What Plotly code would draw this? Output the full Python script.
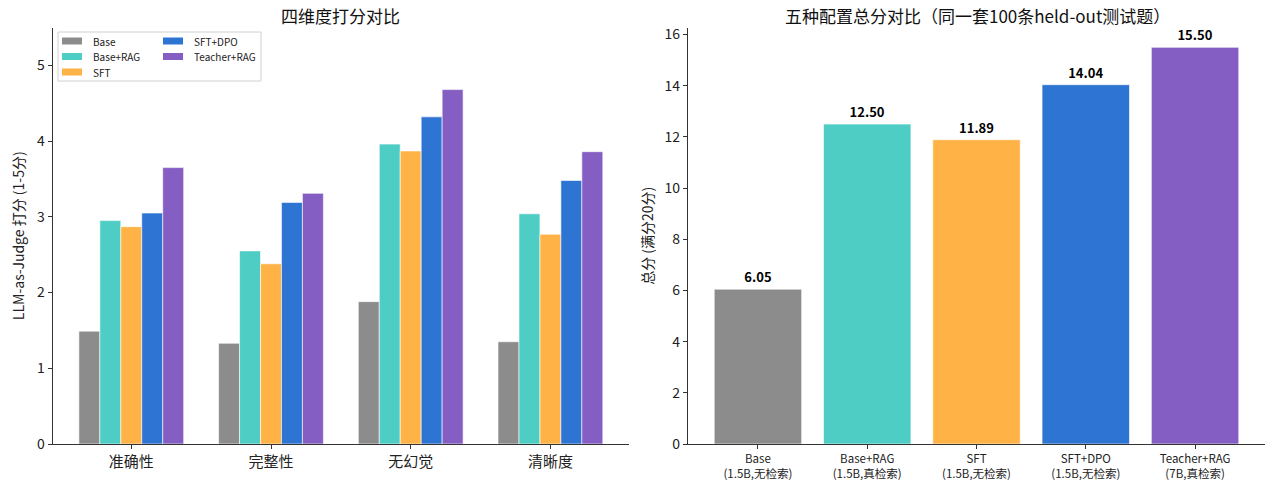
import plotly.graph_objects as go

# data
dimensions = ['准确性', '完整性', '无幻觉', '清晰度']
configs = ['Base', 'Base+RAG', 'SFT', 'SFT+DPO', 'Teacher+RAG']
config_labels = ['Base<br>(1.5B,无检索)', 'Base+RAG<br>(1.5B,真检索)', 'SFT<br>(1.5B,无检索)',
                 'SFT+DPO<br>(1.5B,无检索)', 'Teacher+RAG<br>(7B,真检索)']
colors = ['#8c8c8c', '#4ecdc4', '#ffb347', '#2e74d2', '#845ec2']

base_scores = [1.49, 1.33, 1.88, 1.35]
base_rag_scores = [2.95, 2.55, 3.96, 3.04]
sft_scores = [2.87, 2.38, 3.87, 2.77]
sft_dpo_scores = [3.05, 3.19, 4.32, 3.48]
teacher_rag_scores = [3.65, 3.31, 4.68, 3.86]
totals = [6.05, 12.50, 11.89, 14.04, 15.50]

scores = [base_scores, base_rag_scores, sft_scores, sft_dpo_scores, teacher_rag_scores]

FONT = 'Noto Sans CJK SC'
W, H = 1280, 485


def px_x(p):
    return p / W


def px_y(p):
    return 1 - p / H


fig = go.Figure()

# left: grouped bars per dimension
for i, (name, vals) in enumerate(zip(configs, scores)):
    fig.add_trace(go.Bar(
        x=dimensions, y=vals, name=name, showlegend=False,
        marker=dict(color=colors[i], line=dict(color='white', width=0.6)),
        xaxis='x', yaxis='y',
    ))

# right: totals
fig.add_trace(go.Bar(
    x=config_labels, y=totals, width=0.8,
    marker=dict(color=colors, line=dict(color='white', width=0.6)),
    text=[f'{v:.2f}' for v in totals], textposition='outside',
    textfont=dict(size=13, color='black', family=FONT, weight='bold'),
    cliponaxis=False, showlegend=False,
    xaxis='x2', yaxis='y2',
))

axis_common = dict(
    showline=True, linecolor='#333', linewidth=1.2, showgrid=False, zeroline=False,
    ticks='outside', ticklen=4, tickcolor='#333', automargin=False,
)
y_dom = [px_y(444), px_y(27.5)]

# legend box (two columns, column-major like matplotlib ncol=2)
shapes = [dict(type='rect', xref='paper', yref='paper',
               x0=px_x(58), x1=px_x(261), y0=px_y(81), y1=px_y(32),
               line=dict(color='#d0d0d0', width=1), fillcolor='rgba(255,255,255,0.8)')]
annotations = []
for i, name in enumerate(configs):
    col, row = divmod(i, 3)
    x0 = 62 + col * 101
    yc = 41 + row * 15.5
    shapes.append(dict(type='rect', xref='paper', yref='paper',
                       x0=px_x(x0), x1=px_x(x0 + 20), y0=px_y(yc + 3.5), y1=px_y(yc - 3.5),
                       line=dict(width=0), fillcolor=colors[i]))
    annotations.append(dict(text=name, x=px_x(x0 + 29), y=px_y(yc), xref='paper', yref='paper',
                            xanchor='left', yanchor='middle', showarrow=False,
                            font=dict(size=10, color='#222')))

annotations += [
    dict(text='四维度打分对比', x=px_x(340), y=px_y(15), xref='paper', yref='paper',
         xanchor='center', yanchor='middle',
         showarrow=False, font=dict(size=17, color='#111')),
    dict(text='五种配置总分对比（同一套100条held-out测试题）', x=px_x(977), y=px_y(15),
         xref='paper', yref='paper', xanchor='center', yanchor='middle',
         showarrow=False, font=dict(size=17, color='#111')),
]

fig.update_layout(
    width=W, height=H,
    margin=dict(l=0, r=0, t=0, b=0),
    paper_bgcolor='white', plot_bgcolor='white',
    font=dict(family=FONT, color='#222'),
    barmode='group', bargap=0.25, bargroupgap=0,
    xaxis=dict(domain=[px_x(52.7), px_x(629)], type='category', range=[-0.5625, 3.5625],
               tickfont=dict(family=FONT, size=15, color='#222'), **axis_common),
    yaxis=dict(domain=y_dom, range=[0, 5.5], dtick=1,
               title=dict(text='LLM-as-Judge 打分 (1-5分)', font=dict(size=14), standoff=9),
               tickfont=dict(family=FONT, size=14, color='#222'), **axis_common),
    xaxis2=dict(domain=[px_x(688), px_x(1265)], type='category', range=[-0.64, 4.64],
                anchor='y2', tickfont=dict(family=FONT, size=11.5, color='#222'), **axis_common),
    yaxis2=dict(domain=y_dom, range=[0, 16.275], dtick=2, anchor='x2',
                title=dict(text='总分 (满分20分)', font=dict(size=14), standoff=7),
                tickfont=dict(family=FONT, size=14, color='#222'), **axis_common),
    shapes=shapes,
    annotations=annotations,
)

fig.write_html('out.html', config={'displayModeBar': False},
               post_script="document.body.style.margin = '0px';")
